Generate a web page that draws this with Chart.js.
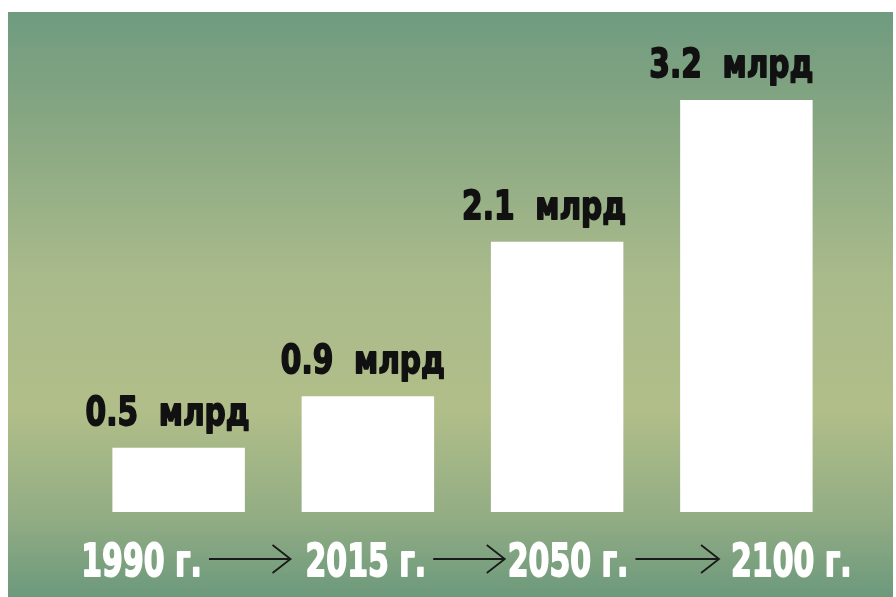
<!DOCTYPE html>
<html>
<head>
<meta charset="utf-8">
<script src="https://cdn.jsdelivr.net/npm/chart.js@4"></script>
<style>
  html, body { margin: 0; padding: 0; background: #fff; }
  #wrap { width: 896px; height: 597px; position: relative; }
</style>
</head>
<body>
<div id="wrap"><canvas id="chart" width="896" height="597"></canvas></div>
<script>
const years = ['1990 г.', '2015 г.', '2050 г.', '2100 г.'];
const population = [0.5, 0.9, 2.1, 3.2];
const valueLabels = ['0.5  млрд', '0.9  млрд', '2.1  млрд', '3.2  млрд'];

// horizontal nudges for the text rows (layout only)
const valueShift = [-11, -5, -13, -15];
const yearShift = [-37, -2, 11, 45];
const arrowGap = [15, 3, 12];

const backdrop = {
    id: 'backdrop',
    beforeDraw(chart) {
        const ctx = chart.ctx;
        ctx.save();
        ctx.fillStyle = '#ffffff';
        ctx.fillRect(0, 0, chart.width, chart.height);
        const g = ctx.createLinearGradient(0, 12, 0, 597);
        g.addColorStop(0, '#6f9b7f');
        g.addColorStop(0.18, '#86a682');
        g.addColorStop(0.45, '#a9ba8b');
        g.addColorStop(0.68, '#b1be89');
        g.addColorStop(0.86, '#93ad84');
        g.addColorStop(1, '#6c997c');
        ctx.fillStyle = g;
        ctx.fillRect(8, 12, 885, 585);
        ctx.restore();
    }
};

function heavyText(ctx, text, cx, baseline, size, color, squeeze) {
    ctx.save();
    ctx.font = 'bold ' + size + 'px "DejaVu Sans", sans-serif';
    ctx.fillStyle = color;
    ctx.strokeStyle = color;
    ctx.lineWidth = 1.8;
    ctx.lineJoin = 'round';
    ctx.textAlign = 'center';
    ctx.textBaseline = 'alphabetic';
    ctx.translate(cx, baseline);
    ctx.scale(squeeze, 1);
    ctx.fillText(text, 0, 0);
    ctx.strokeText(text, 0, 0);
    const w = ctx.measureText(text).width * squeeze;
    ctx.restore();
    return w;
}

const textLayer = {
    id: 'textLayer',
    afterDatasetsDraw(chart) {
        const ctx = chart.ctx;
        const meta = chart.getDatasetMeta(0);
        meta.data.forEach((bar, i) => {
            heavyText(ctx, valueLabels[i], bar.x + valueShift[i], bar.y - 23, 39, '#111111', 0.76);
        });

        const x = chart.scales.x;
        const base = 576;
        const spans = years.map((label, i) => {
            const cx = x.getPixelForValue(i) + yearShift[i];
            const w = heavyText(ctx, label, cx, base, 44, '#ffffff', 0.68);
            return [cx - w / 2, cx + w / 2];
        });

        ctx.save();
        ctx.strokeStyle = '#1a1a1a';
        ctx.lineWidth = 1.8;
        for (let i = 0; i < spans.length - 1; i++) {
            const x0 = spans[i][1] + 7;
            const x1 = spans[i + 1][0] - arrowGap[i];
            const y = 559;
            ctx.beginPath();
            ctx.moveTo(x0, y);
            ctx.lineTo(x1, y);
            ctx.moveTo(x1 - 18, y - 14);
            ctx.lineTo(x1, y);
            ctx.lineTo(x1 - 18, y + 14);
            ctx.stroke();
        }
        ctx.restore();
    }
};

new Chart(document.getElementById('chart'), {
    type: 'bar',
    data: {
        labels: years,
        datasets: [{
            data: population,
            backgroundColor: '#ffffff',
            borderWidth: 0,
            barPercentage: 0.7,
            categoryPercentage: 1
        }]
    },
    options: {
        responsive: false,
        animation: false,
        layout: { padding: { top: 100, bottom: 85, left: 84, right: 55 } },
        plugins: { legend: { display: false }, tooltip: { enabled: false } },
        scales: {
            x: { display: false },
            y: { display: false, min: 0, max: 3.2 }
        }
    },
    plugins: [backdrop, textLayer]
});
</script>
</body>
</html>
